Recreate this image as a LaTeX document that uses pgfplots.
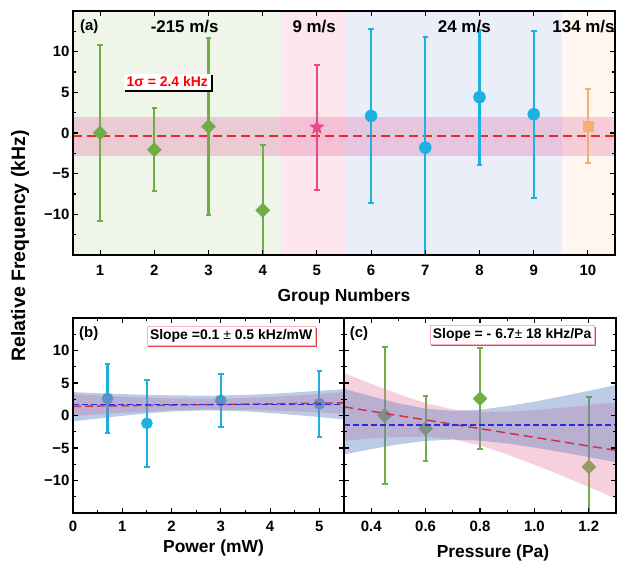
\documentclass[border=0pt]{standalone}
\usepackage{pgfplots}
\pgfplotsset{compat=1.18}
\usepackage{fontspec}
\setmainfont{Liberation Sans}
\usetikzlibrary{shadows}

\definecolor{cgreen}{HTML}{70AD47}
\definecolor{cblue}{HTML}{1FB0E2}
\definecolor{cmag}{HTML}{E8498A}
\definecolor{corange}{HTML}{F4AE6E}
\definecolor{bggreen}{HTML}{EFF5E9}
\definecolor{bgpink}{HTML}{FDE6EC}
\definecolor{bgblue}{HTML}{E9EEF8}
\definecolor{bgorange}{HTML}{FEF6EF}
\definecolor{bandpink}{HTML}{E0609F}
\definecolor{linered}{HTML}{F02828}
\definecolor{fitred}{HTML}{D42A44}
\definecolor{fitblue}{HTML}{2B2BE0}
\definecolor{bandblue}{HTML}{5A7FC0}
\definecolor{bandpinkb}{HTML}{E8789F}
\definecolor{boxred}{HTML}{F04050}

\pgfdeclareplotmark{fstar}{%
  \pgfpathmoveto{\pgfpointpolar{90}{\pgfplotmarksize}}%
  \pgfpathlineto{\pgfpointpolar{126}{0.42\pgfplotmarksize}}%
  \pgfpathlineto{\pgfpointpolar{162}{\pgfplotmarksize}}%
  \pgfpathlineto{\pgfpointpolar{198}{0.42\pgfplotmarksize}}%
  \pgfpathlineto{\pgfpointpolar{234}{\pgfplotmarksize}}%
  \pgfpathlineto{\pgfpointpolar{270}{0.42\pgfplotmarksize}}%
  \pgfpathlineto{\pgfpointpolar{306}{\pgfplotmarksize}}%
  \pgfpathlineto{\pgfpointpolar{342}{0.42\pgfplotmarksize}}%
  \pgfpathlineto{\pgfpointpolar{18}{\pgfplotmarksize}}%
  \pgfpathlineto{\pgfpointpolar{54}{0.42\pgfplotmarksize}}%
  \pgfpathclose\pgfusepathqfillstroke}

\pgfplotsset{
  myax/.style={scale only axis, axis on top, clip mode=individual,
    axis line style={line width=1.8bp},
    tick align=inside, tick style={black, line width=1.1bp},
    major tick length=5bp, minor tick length=3bp,
    /pgf/number format/assume math mode=true,
    tick label style={font=\fontsize{15}{15}\selectfont\bfseries},
    label style={font=\fontsize{17.5}{17.5}\selectfont\bfseries},
    ymin=-15, ymax=15, ytick={-10,-5,0,5,10},
    minor ytick={-12.5,-7.5,-2.5,2.5,7.5,12.5},
    yticklabels={−10,−5,0,5,10},
  },
  ebar/.style={only marks, color=#1, mark options={fill=#1, draw=#1},
    /pgfplots/error bars/y dir=both, /pgfplots/error bars/y explicit,
    /pgfplots/error bars/error bar style={line width=2.1bp, #1},
    /pgfplots/error bars/error mark options={rotate=90, mark size=2.8bp, line width=2bp, #1}},
}

\begin{document}
\begin{tikzpicture}
\path[use as bounding box] (0bp,0bp) rectangle (617bp,562bp);

% ---------------- panel (a)
\begin{axis}[myax, at={(73bp,307bp)}, anchor=south west,
  width=542bp, height=244bp,
  xmin=0.5, xmax=10.5, xtick={1,...,10},
  xticklabels={1,2,3,4,5,6,7,8,9,10},
  xticklabel style={yshift=-7bp},
  xlabel={Group Numbers},
  xlabel style={at={(axis description cs:0.5,0)}, anchor=center, yshift=-42bp},
]
\addplot[draw=none, fill=bggreen] coordinates {(0.5,-15) (4.33,-15) (4.33,15) (0.5,15)};
\addplot[draw=none, fill=bgpink] coordinates {(4.33,-15) (5.53,-15) (5.53,15) (4.33,15)};
\addplot[draw=none, fill=bgblue] coordinates {(5.53,-15) (9.52,-15) (9.52,15) (5.53,15)};
\addplot[draw=none, fill=bgorange] coordinates {(9.52,-15) (10.5,-15) (10.5,15) (9.52,15)};
\addplot[draw=none, fill=bandpink, fill opacity=0.28] coordinates {(0.5,-2.8) (10.5,-2.8) (10.5,2.0) (0.5,2.0)};
\addplot[linered, line width=1.6bp, dash pattern=on 9bp off 5bp] coordinates {(0.5,-0.4) (10.5,-0.4)};

\addplot[ebar=cgreen, mark=square*, mark size=5bp, mark options={rotate=45}] coordinates {
  (1,0) +- (0,10.8)
  (2,-2.05) +- (0,5.1)
  (3,0.8) +- (0,10.9)
  (4,-9.5) +- (0,8.0)
};
\addplot[ebar=cmag, mark=fstar, mark size=7.5bp] coordinates {
  (5,0.7) +- (0,7.7)
};
\addplot[ebar=cblue, mark=*, mark size=6bp] coordinates {
  (6,2.1) +- (0,10.7)
  (7,-1.8) +- (0,13.6)
  (8,4.4) +- (0,8.3)
  (9,2.3) +- (0,10.3)
};
\addplot[ebar=corange, mark=square*, mark size=5.2bp] coordinates {
  (10,0.85) +- (0,4.5)
};

\node[font=\fontsize{15}{15}\selectfont\bfseries] at (axis cs:0.8,13.1) {(a)};
\node[font=\fontsize{17}{17}\selectfont\bfseries] at (axis cs:2.56,13.1) {-215 m/s};
\node[font=\fontsize{17}{17}\selectfont\bfseries] at (axis cs:4.95,13.1) {9 m/s};
\node[font=\fontsize{17}{17}\selectfont\bfseries] at (axis cs:7.72,13.1) {24 m/s};
\node[font=\fontsize{17}{17}\selectfont\bfseries] at (axis cs:9.92,13.1) {134 m/s};
\node[font=\fontsize{14}{14}\selectfont\bfseries, text=red, fill=white, inner sep=3bp,
  drop shadow={shadow xshift=1.6bp, shadow yshift=-1.6bp, fill=black, opacity=1}]
  at (axis cs:2.24,6.27) {1σ = 2.4 kHz};
\end{axis}

% ---------------- panel (b)
\begin{axis}[myax, at={(73bp,49bp)}, anchor=south west,
  width=271bp, height=195bp,
  xmin=0, xmax=5.5, xtick={0,1,2,3,4,5}, minor xtick={0.5,1.5,2.5,3.5,4.5},
  xticklabels={0,1,2,3,4,5},
  xticklabel style={yshift=-5bp},
  xlabel={Power (mW)},
  xlabel style={at={(axis description cs:0.5,0)}, anchor=center, yshift=-35bp, xshift=5bp},
]
\addplot[ebar=cblue, mark=*, mark size=5.6bp] coordinates {
  (0.7,2.6) +- (0,5.3)
  (1.5,-1.2) +- (0,6.7)
  (3,2.3) +- (0,4.1)
  (5,1.8) +- (0,5.1)
};
\addplot[draw=none, fill=bandpinkb, fill opacity=0.35] coordinates {
  (0,3.30) (1,2.90) (2,2.65) (2.7,2.60) (3.5,2.68) (4.5,3.05) (5.5,3.60)
  (5.5,0.30) (4.5,0.65) (3.5,0.88) (2.7,0.90) (2,0.80) (1,0.40) (0,-0.10)};
\addplot[draw=none, fill=bandblue, fill opacity=0.4] coordinates {
  (0,3.60) (0.5,3.44) (1,3.29) (1.5,3.18) (2,3.10) (2.7,3.05) (3.5,3.16) (4,3.33) (4.5,3.55) (5,3.80) (5.5,4.07)
  (5.5,-0.60) (5,-0.24) (4.5,0.09) (4,0.39) (3.5,0.63) (2.7,0.80) (2,0.61) (1.5,0.31) (1,-0.06) (0.5,-0.47) (0,-0.90)};
\addplot[fitred, line width=1.4bp, dash pattern=on 8bp off 4bp] coordinates {(0,1.4) (5.5,1.95)};
\addplot[fitblue, line width=1.3bp, dash pattern=on 6bp off 3bp] coordinates {(0,1.65) (5.5,1.65)};
\node[font=\fontsize{15}{15}\selectfont\bfseries] at (axis cs:0.32,12.6) {(b)};
\node[font=\fontsize{14}{14}\selectfont\bfseries, fill=white, draw=boxred!40, line width=0.5bp, inner sep=3bp,
  drop shadow={shadow xshift=1.2bp, shadow yshift=-1.2bp, fill=boxred, opacity=1}]
  at (axis cs:3.21,12.24) {Slope =0.1 {\mdseries ±} 0.5 kHz/mW};
\end{axis}

% ---------------- panel (c)
\begin{axis}[myax, at={(344bp,49bp)}, anchor=south west,
  width=272bp, height=195bp,
  xmin=0.3, xmax=1.3, xtick={0.4,0.6,0.8,1.0,1.2}, minor xtick={0.3,0.5,0.7,0.9,1.1},
  xticklabels={0.4,0.6,0.8,1.0,1.2},
  xticklabel style={yshift=-5bp},
  yticklabels={},
  xlabel={Pressure (Pa)},
  xlabel style={at={(axis description cs:0.5,0)}, anchor=center, yshift=-40bp, xshift=13bp},
]
\addplot[ebar=cgreen, mark=square*, mark size=5bp, mark options={rotate=45}] coordinates {
  (0.45,0) +- (0,10.6)
  (0.6,-2.0) +- (0,5.0)
  (0.8,2.6) +- (0,7.8)
  (1.2,-7.9) +- (0,10.7)
};
\addplot[draw=none, fill=bandpinkb, fill opacity=0.35] coordinates {
  (0.3,6.55) (0.4,4.86) (0.5,3.28) (0.6,1.90) (0.7,0.95) (0.8,0.56) (0.9,0.60) (1.0,0.84) (1.1,1.19) (1.2,1.60) (1.3,2.03)
  (1.3,-12.77) (1.2,-11.0) (1.1,-9.25) (1.0,-7.56) (0.9,-5.98) (0.8,-4.60) (0.7,-3.65) (0.6,-3.26) (0.5,-3.30) (0.4,-3.54) (0.3,-3.89)};
\addplot[draw=none, fill=bandblue, fill opacity=0.4] coordinates {
  (0.3,4.10) (0.4,2.95) (0.5,1.89) (0.6,1.05) (0.7,0.70) (0.8,0.90) (0.9,1.43) (1.0,2.13) (1.1,2.94) (1.2,3.80) (1.3,4.69)
  (1.3,-7.21) (1.2,-6.41) (1.1,-5.64) (1.0,-4.93) (0.9,-4.31) (0.8,-3.87) (0.7,-3.70) (0.6,-3.91) (0.5,-4.45) (0.4,-5.17) (0.3,-5.99)};
\addplot[fitred, line width=1.4bp, dash pattern=on 9bp off 5bp] coordinates {(0.3,1.33) (1.3,-5.37)};
\addplot[fitblue, line width=1.3bp, dash pattern=on 6bp off 3bp] coordinates {(0.3,-1.48) (1.3,-1.48)};
\node[font=\fontsize{15}{15}\selectfont\bfseries] at (axis cs:0.355,12.6) {(c)};
\node[font=\fontsize{14}{14}\selectfont\bfseries, fill=white, draw=boxred!40, line width=0.5bp, inner sep=3bp,
  drop shadow={shadow xshift=1.2bp, shadow yshift=-1.2bp, fill=boxred, opacity=1}]
  at (axis cs:0.918,12.37) {Slope = - 6.7{\mdseries ±} 18 kHz/Pa};
\end{axis}

\node[rotate=90, font=\fontsize{19.5}{19.5}\selectfont\bfseries] at (20bp,316bp) {Relative Frequency (kHz)};
\end{tikzpicture}
\end{document}
